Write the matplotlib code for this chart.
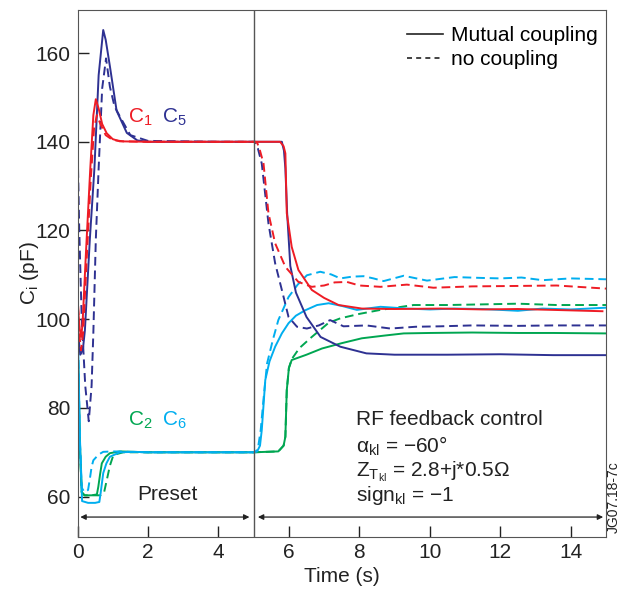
import matplotlib
matplotlib.use('Agg')
import matplotlib.pyplot as plt
from matplotlib.lines import Line2D

plt.rcParams['font.family'] = ['Liberation Sans', 'DejaVu Sans']
plt.rcParams['mathtext.fontset'] = 'custom'
plt.rcParams['mathtext.rm'] = 'Liberation Sans'
plt.rcParams['mathtext.it'] = 'Liberation Sans:italic'
plt.rcParams['mathtext.sf'] = 'Liberation Sans'

RED = '#ee1c25'
NAVY = '#2e3192'
GREEN = '#00a651'
CYAN = '#00aeef'

# C1, mutual coupling (solid) and no coupling (dashed)
c1_t = [0, 0.06, 0.1, 0.14, 0.24, 0.36, 0.45, 0.52, 0.6, 0.7, 0.83, 1.0, 1.2, 2, 4, 5,
        5.75, 5.85, 5.9, 5.94, 6.08, 6.27, 6.65, 7.0, 7.41, 8.07, 9, 10.3, 11.5, 12.5, 13.5, 14.9]
c1_y = [104, 98, 96, 98.5, 115, 133.6, 146, 149.6, 147.5, 144, 141.9, 140.6, 140.1, 140, 140, 140,
        140, 139, 137.4, 123.9, 116.3, 111.1, 106.6, 104.8, 103.2, 102.4, 102.3, 102.4, 102.2, 102.3, 102.1, 101.8]
c1n_t = [0, 0.06, 0.1, 0.16, 0.27, 0.38, 0.47, 0.55, 0.65, 0.8, 1.0, 1.3, 2, 4, 5, 5.1, 5.18, 5.28,
         5.42, 5.61, 5.9, 6.27, 6.65, 7.0, 7.3, 7.65, 8.0, 8.6, 9.35, 10.1, 11.2, 12.5, 13.6, 15]
c1n_y = [106, 96, 93, 97, 115, 132, 143, 146, 144, 141.5, 140.4, 140.1, 140, 140, 140, 139.8, 138, 135.1,
         123.9, 117.1, 111.8, 108.4, 107.3, 107.6, 108.3, 108.4, 107.6, 107.3, 107.8, 107.1, 107.4, 107.5, 107.6, 106.9]

# C5
c5_t = [0, 0.08, 0.15, 0.21, 0.35, 0.48, 0.6, 0.73, 0.8, 0.92, 1.11, 1.4, 1.7, 2.0, 4, 5,
        5.8, 5.86, 5.9, 5.95, 6.04, 6.2, 6.5, 6.9, 7.46, 8.2, 9, 10.5, 12, 13.5, 15]
c5_y = [98, 92, 93, 97.5, 118, 134, 155, 165.2, 163, 157, 147, 142, 140.3, 140, 140, 140,
        140, 138, 134, 124, 112, 106, 100.5, 96, 93.8, 92.3, 92, 92, 92.1, 91.9, 91.9]
c5n_t = [0, 0.05, 0.12, 0.22, 0.32, 0.4, 0.45, 0.52, 0.6, 0.7, 0.81, 0.92, 1.05, 1.21, 1.5, 2.0, 4, 5.0,
         5.04, 5.12, 5.23, 5.42, 5.61, 5.8, 5.99, 6.23, 6.51, 6.85, 7.17, 7.55, 8.2, 8.88, 9.6, 10.3,
         11.2, 12.5, 13.5, 15]
c5n_y = [140, 120, 100, 85, 77, 85, 97, 118, 134, 152, 158.8, 152.4, 148, 145.6, 141.5, 140.2, 140, 140,
         140, 138.5, 135.1, 121.6, 112.6, 106.6, 100.5, 98.3, 97.9, 98.6, 99.8, 98.4, 98.6, 97.9, 98.3, 98.4,
         98.6, 98.5, 98.6, 98.6]

# C2
c2_t = [0, 0.02, 0.07, 0.12, 0.2, 0.4, 0.55, 0.59, 0.64, 0.69, 0.8, 0.92, 1.2, 1.6, 2, 4, 5,
        5.7, 5.85, 5.9, 5.94, 6.0, 6.08, 6.5, 6.94, 7.5, 8.07, 8.7, 9.26, 10, 11.2, 12.5, 13.5, 15]
c2_y = [93, 90, 72, 61, 60.3, 60.3, 60.5, 62.2, 65, 67.5, 69, 69.8, 70.2, 70.1, 70, 70, 70,
        70.2, 71.5, 73.5, 84, 89, 90.8, 92, 93.4, 94.6, 95.7, 96.3, 96.8, 96.9, 97, 96.9, 96.9, 96.8]
c2n_t = [0, 0.02, 0.07, 0.12, 0.2, 0.5, 0.65, 0.75, 0.83, 0.92, 1.02, 1.3, 2, 4, 5,
         5.7, 5.85, 5.9, 5.94, 6.0, 6.08, 6.3, 6.65, 7.13, 7.46, 8.0, 8.6, 9.54, 10.5, 11.2, 12.5, 13.6, 15]
c2n_y = [92, 88, 70, 61, 60.3, 60.3, 60.3, 60.8, 63.7, 67, 69.4, 70, 70, 70, 70,
         70.2, 71.5, 73.5, 84, 89, 91, 93.5, 96, 99.2, 100.2, 101.2, 102.1, 103.2, 103.2, 103.3, 103.5, 103.2, 103.2]

# C6
c6_t = [0, 0.02, 0.07, 0.13, 0.3, 0.5, 0.62, 0.66, 0.73, 0.82, 0.92, 1.2, 1.6, 2, 4, 5,
        5.1, 5.18, 5.23, 5.33, 5.45, 5.61, 5.8, 5.99, 6.2, 6.46, 6.8, 7.13, 7.5, 7.93, 8.6, 9.35,
        10, 10.7, 11.5, 12.5, 13.2, 14, 15]
c6_y = [98, 94, 72, 59, 58.6, 58.6, 58.8, 61, 65.3, 67.5, 69, 70, 70.1, 70, 70, 70,
        70.2, 71.5, 75, 86.3, 90.5, 93.8, 96.8, 99.1, 100.8, 102, 103.2, 103.6, 103, 102.1, 102.8, 102.4,
        102.2, 102.4, 102.3, 101.9, 102.4, 102.2, 102.6]
c6n_t = [0, 0.02, 0.06, 0.12, 0.2, 0.3, 0.36, 0.4, 0.45, 0.6, 0.73, 1.0, 2, 4, 5,
         5.05, 5.12, 5.2, 5.28, 5.38, 5.55, 5.7, 5.99, 6.25, 6.51, 6.89, 7.2, 7.46, 7.8, 8.12, 8.4, 8.69,
         9.26, 9.92, 10.7, 11.5, 12.0, 12.6, 13.2, 14, 15]
c6n_y = [100, 95, 75, 62, 61, 61.5, 64.5, 66.7, 68.2, 69.5, 70.1, 70.2, 70, 70, 70,
         70.1, 70.8, 75, 82, 90, 95.5, 99.8, 105, 107.8, 109.9, 110.7, 110.1, 109.2, 109.6, 109.7, 109.2, 108.6,
         109.8, 108.7, 109.5, 109.3, 109.2, 109.4, 108.8, 109.2, 109]

FS = 15
INK = '#222222'

fig = plt.figure(figsize=(6.21, 5.9), dpi=100)
ax = fig.add_axes([0.1248, 0.0898, 0.851, 0.8932])

lw = 1.4
dash = (0, (4.5, 2.5))
ax.plot(c2_t, c2_y, color=GREEN, lw=lw)
ax.plot(c2n_t, c2n_y, color=GREEN, lw=lw, ls=dash)
ax.plot(c6_t, c6_y, color=CYAN, lw=lw)
ax.plot(c6n_t, c6n_y, color=CYAN, lw=lw, ls=dash)
ax.plot(c5_t, c5_y, color=NAVY, lw=lw)
ax.plot(c5n_t, c5n_y, color=NAVY, lw=lw, ls=dash)
ax.plot(c1_t, c1_y, color=RED, lw=lw)
ax.plot(c1n_t, c1n_y, color=RED, lw=lw, ls=dash)

ax.axvline(5, color='#555555', lw=1)

ax.set_xlim(0, 15)
ax.set_ylim(50.9, 169.7)
ax.set_xticks([0, 2, 4, 6, 8, 10, 12, 14])
ax.set_yticks([60, 80, 100, 120, 140, 160])
ax.tick_params(direction='in', length=8, width=1, labelsize=FS, color=INK, labelcolor=INK)
ax.tick_params(axis='y', pad=5)
ax.tick_params(axis='x', pad=4)
for sp in ax.spines.values():
    sp.set_color('#555555')
ax.set_xlabel('Time (s)', fontsize=FS, labelpad=4, color=INK)
ax.set_ylabel(r'C$_\mathregular{i}$ (pF)', fontsize=FS, color=INK)
ax.yaxis.set_label_coords(-0.07, 0.5)

# double arrows
arr = dict(arrowstyle='<|-|>', color=INK, lw=0.9, mutation_scale=8, shrinkA=0, shrinkB=0)
ax.annotate('', xy=(0.08, 55.4), xytext=(4.88, 55.4), arrowprops=arr)
ax.annotate('', xy=(5.12, 55.4), xytext=(14.92, 55.4), arrowprops=arr)
ax.text(2.55, 60.5, 'Preset', fontsize=FS, ha='center', va='center', color=INK)

ax.text(1.43, 145.4, r'C$_\mathregular{1}$', color=RED, fontsize=FS, va='center')
ax.text(2.4, 145.4, r'C$_\mathregular{5}$', color=NAVY, fontsize=FS, va='center')
ax.text(1.43, 77.2, r'C$_\mathregular{2}$', color=GREEN, fontsize=FS, va='center')
ax.text(2.4, 77.2, r'C$_\mathregular{6}$', color=CYAN, fontsize=FS, va='center')

tx = 7.9
ax.text(tx, 77.3, 'RF feedback control', fontsize=FS, va='center', color=INK)
ax.text(tx, 71.3, 'α$_\\mathregular{kl}$ = \u221260\u00b0', fontsize=FS, va='center', color=INK)
ax.text(tx, 65.6, 'Z$_\\mathregular{T_{kl}}$ = 2.8+j*0.5\u03a9', fontsize=FS, va='center', color=INK)
ax.text(tx, 60.2, 'sign$_\\mathregular{kl}$ = \u22121', fontsize=FS, va='center', color=INK)

fig.text(0.989, 0.158, 'JG07.18-7c', rotation=90, fontsize=10, ha='center', va='center', color=INK)

handles = [Line2D([], [], color=INK, lw=1.2),
           Line2D([], [], color=INK, lw=1.2, ls=(0, (3, 2.5)))]
ax.legend(handles, ['Mutual coupling', 'no coupling'], loc='upper right', bbox_to_anchor=(1.0, 0.985),
          frameon=False, fontsize=FS, handlelength=1.7, handletextpad=0.4, labelspacing=0.25,
          borderpad=0, borderaxespad=0.4)

fig.savefig('out.png', dpi=100)
